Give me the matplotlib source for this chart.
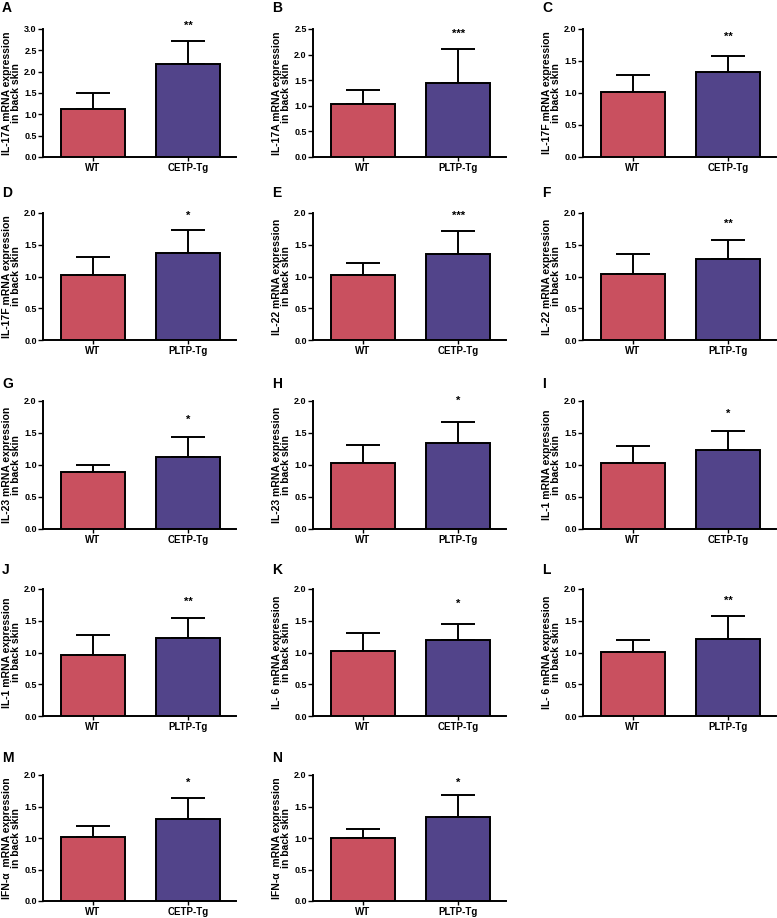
import matplotlib
matplotlib.use('Agg')
import matplotlib.pyplot as plt
from matplotlib.ticker import FormatStrFormatter

# Panel data
letters = ['A', 'B', 'C', 'D', 'E', 'F', 'G', 'H', 'I', 'J', 'K', 'L', 'M', 'N']
genes = ['IL-17A', 'IL-17A', 'IL-17F', 'IL-17F', 'IL-22', 'IL-22', 'IL-23', 'IL-23',
         'IL-1', 'IL-1', 'IL- 6', 'IL- 6', 'IFN-\u03b1 ', 'IFN-\u03b1 ']
tg_groups = ['CETP-Tg', 'PLTP-Tg'] * 7
wt_mean = [1.13, 1.03, 1.02, 1.02, 1.02, 1.04, 0.89, 1.03, 1.03, 0.96, 1.03, 1.01, 1.01, 1.00]
wt_top = [1.51, 1.30, 1.28, 1.30, 1.22, 1.36, 1.00, 1.32, 1.30, 1.27, 1.30, 1.20, 1.19, 1.15]
tg_mean = [2.17, 1.44, 1.33, 1.37, 1.35, 1.28, 1.12, 1.35, 1.23, 1.23, 1.20, 1.22, 1.30, 1.33]
tg_top = [2.71, 2.10, 1.58, 1.74, 1.72, 1.57, 1.44, 1.67, 1.53, 1.54, 1.45, 1.57, 1.63, 1.69]
stars = ['**', '***', '**', '*', '***', '**', '*', '*', '*', '**', '*', '**', '*', '*']
star_y = [3.14, 2.47, 1.92, 2.01, 2.00, 1.87, 1.75, 2.05, 1.85, 1.85, 1.81, 1.86, 1.93, 1.93]
y_max = [3.0, 2.5, 2.0, 2.0, 2.0, 2.0, 2.0, 2.0, 2.0, 2.0, 2.0, 2.0, 2.0, 2.0]

W, H = 777, 918
col_left = [43, 313, 583]
ax_width = 193
row_top = [29, 213, 401, 589, 775]
row_bottom = [157, 340, 529, 716, 901]
letter_y = [8, 193, 384, 570, 758]
letter_x = [2, 272, 542]

red = '#C9505F'
purple = '#52448A'
lw = 1.4

plt.rcParams['font.family'] = ['Liberation Sans', 'DejaVu Sans']
plt.rcParams['font.weight'] = 'bold'

fig = plt.figure(figsize=(W / 100, H / 100), dpi=100)

for i in range(len(letters)):
    r, c = divmod(i, 3)
    left = col_left[c]
    top, bottom = row_top[r], row_bottom[r]
    ax = fig.add_axes([left / W, 1 - bottom / H, ax_width / W, (bottom - top) / H])

    ax.bar([0, 1], [wt_mean[i], tg_mean[i]], width=0.67, color=[red, purple],
           edgecolor='black', linewidth=lw, zorder=3)
    for x, m, t in [(0, wt_mean[i], wt_top[i]), (1, tg_mean[i], tg_top[i])]:
        ax.errorbar(x, m, yerr=[[0], [t - m]], fmt='none', ecolor='black',
                    elinewidth=lw, capsize=12, capthick=lw, zorder=2)

    ax.set_xlim(-0.52, 1.5)
    ax.set_ylim(0, y_max[i])
    ax.set_yticks([k * 0.5 for k in range(int(y_max[i] / 0.5) + 1)])
    ax.yaxis.set_major_formatter(FormatStrFormatter('%.1f'))
    ax.set_xticks([0, 1])
    ax.set_xticklabels(['WT', tg_groups[i]])
    ax.tick_params(axis='x', length=3, width=1, pad=1, labelsize=7)
    ax.tick_params(axis='y', length=3.5, width=1, pad=1, labelsize=6.5)
    for s in ['top', 'right']:
        ax.spines[s].set_visible(False)
    for s in ['left', 'bottom']:
        ax.spines[s].set_linewidth(lw)

    ax.set_ylabel(genes[i] + ' mRNA expression\nin back skin', fontsize=7.5,
                  fontweight='bold', linespacing=0.9)
    ax.yaxis.set_label_coords(-22 / ax_width, 0.5)
    ax.annotate(stars[i], (1, star_y[i]), xytext=(0, -2.2), textcoords='offset points',
                ha='center', va='center', fontsize=8, annotation_clip=False)

    fig.text(letter_x[c] / W, 1 - letter_y[r] / H, letters[i], fontsize=10,
             fontweight='bold', ha='left', va='center')

fig.savefig('out.png', dpi=100)
